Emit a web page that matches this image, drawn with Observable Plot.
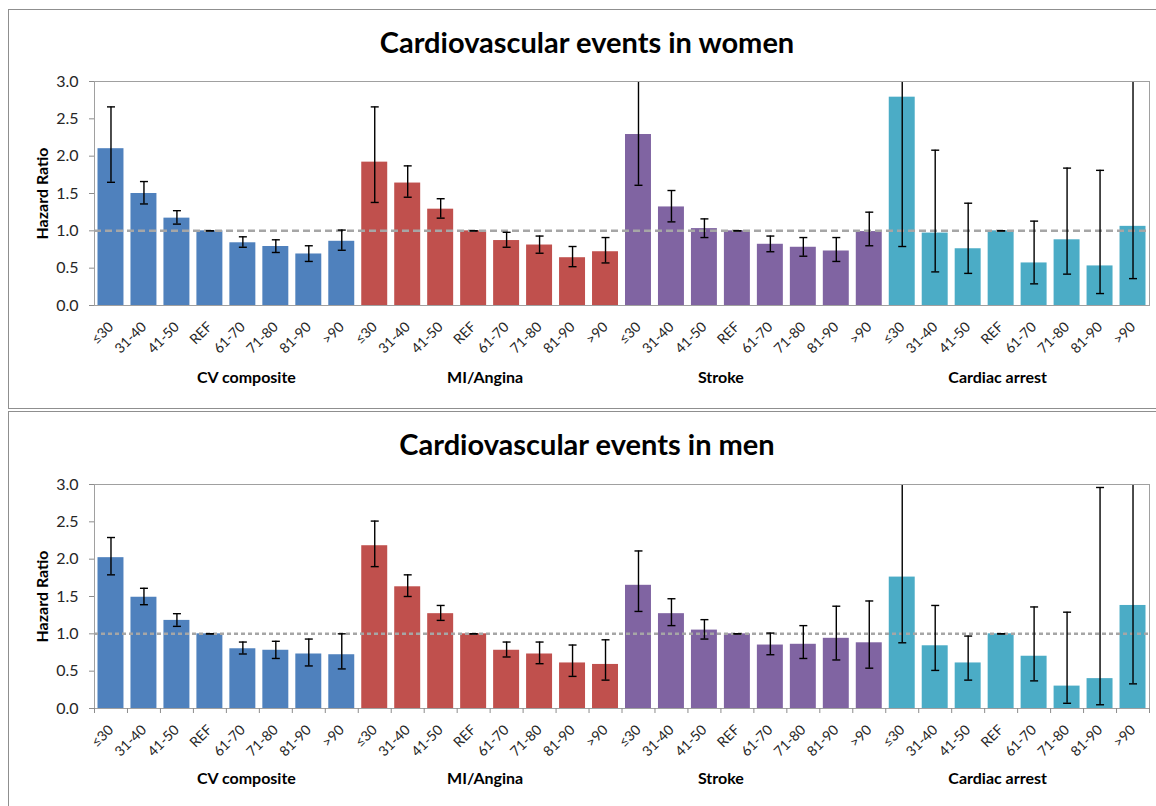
<!DOCTYPE html>
<html>
<head>
<meta charset="utf-8">
<script src="https://cdn.jsdelivr.net/npm/d3@7"></script>
<script src="https://cdn.jsdelivr.net/npm/@observablehq/plot@0.6"></script>
<style>
  html, body { margin: 0; padding: 0; background: #fff; }
  body { width: 1156px; height: 806px; overflow: hidden; position: relative; font-family: Lato, "Open Sans", sans-serif; }
  .panel { position: absolute; left: 8px; width: 1158px; box-sizing: border-box; border: 1px solid #8f8f8f; }
  .title { position: absolute; left: 8px; width: 1158px; text-align: center; font-weight: bold; font-size: 29px; line-height: 29px; color: #000; }
  .chart { position: absolute; left: 9px; }
</style>
</head>
<body>
<div class="panel" style="top:9px;height:400px;"></div>
<div class="panel" style="top:411px;height:420px;"></div>
<div class="title" style="top:27px;">Cardiovascular events in women</div>
<div class="title" style="top:429px;">Cardiovascular events in men</div>
<div class="chart" id="women" style="top:69px;"></div>
<div class="chart" id="men" style="top:472px;"></div>
<script>
// ---- data ----
const groups = ["CV composite", "MI/Angina", "Stroke", "Cardiac arrest"];
const ageBands = ["≤30", "31-40", "41-50", "REF", "61-70", "71-80", "81-90", ">90"];
const groupColors = ["#4F81BD", "#C0504D", "#8064A2", "#4BACC6"];
const refHR = 1;

const womenHR = [2.10, 1.50, 1.17, 1.00, 0.84, 0.79, 0.69, 0.86,
                 1.92, 1.64, 1.29, 1.00, 0.87, 0.81, 0.64, 0.72,
                 2.29, 1.32, 1.03, 1.00, 0.82, 0.78, 0.73, 0.99,
                 2.79, 0.97, 0.76, 1.00, 0.57, 0.88, 0.53, 1.06];
const womenLo = [1.65, 1.36, 1.09, 1.00, 0.78, 0.71, 0.59, 0.74,
                 1.38, 1.45, 1.17, 1.00, 0.78, 0.70, 0.52, 0.57,
                 1.61, 1.12, 0.91, 1.00, 0.72, 0.66, 0.59, 0.80,
                 0.79, 0.45, 0.43, 1.00, 0.29, 0.42, 0.16, 0.36];
const womenHi = [2.66, 1.66, 1.27, 1.00, 0.92, 0.88, 0.80, 1.01,
                 2.66, 1.87, 1.43, 1.00, 0.98, 0.93, 0.79, 0.91,
                 3.26, 1.54, 1.16, 1.00, 0.93, 0.91, 0.91, 1.25,
                 9.85, 2.08, 1.37, 1.00, 1.13, 1.84, 1.81, 3.12];

const menHR = [2.02, 1.49, 1.18, 1.00, 0.80, 0.78, 0.73, 0.72,
               2.18, 1.63, 1.27, 1.00, 0.78, 0.73, 0.61, 0.59,
               1.65, 1.27, 1.05, 1.00, 0.85, 0.86, 0.94, 0.88,
               1.76, 0.84, 0.61, 1.00, 0.70, 0.30, 0.40, 1.38];
const menLo = [1.79, 1.39, 1.10, 1.00, 0.73, 0.67, 0.57, 0.53,
               1.90, 1.50, 1.18, 1.00, 0.69, 0.60, 0.43, 0.38,
               1.30, 1.11, 0.93, 1.00, 0.72, 0.67, 0.65, 0.54,
               0.88, 0.51, 0.38, 1.00, 0.37, 0.07, 0.05, 0.33];
const menHi = [2.29, 1.61, 1.27, 1.00, 0.89, 0.90, 0.93, 1.00,
               2.51, 1.79, 1.38, 1.00, 0.89, 0.89, 0.85, 0.92,
               2.11, 1.47, 1.19, 1.00, 1.01, 1.11, 1.37, 1.44,
               3.52, 1.38, 0.97, 1.00, 1.36, 1.29, 2.96, 5.77];

const yTicks = [0, 0.5, 1.0, 1.5, 2.0, 2.5, 3.0];

// ---- chart ----
function buildRows(hr, lo, hi) {
  return hr.map((v, i) => ({
    i, group: groups[Math.floor(i / ageBands.length)], age: ageBands[i % ageBands.length],
    hr: v, lo: lo[i], hi: hi[i]
  }));
}

const capSymbol = {
  draw(context, size) {
    const w = Math.sqrt(size / Math.PI);
    context.moveTo(-w, 0);
    context.lineTo(w, 0);
  }
};

const labelDx = [20, -5, -33, -20];

function makeChart(rows, {dash, boundaryTicks, groupDy}) {
  const n = rows.length;
  const mid = d => d.i + 0.5;
  return Plot.plot({
    width: 1147, height: 338,
    marginTop: 12, marginBottom: 102, marginLeft: 85, marginRight: 7,
    x: {domain: [0, n], axis: null},
    y: {domain: [0, 3], axis: null},
    color: {domain: groups, range: groupColors},
    style: {fontFamily: "Lato, 'Open Sans', sans-serif", fontSize: "14px", color: "#262626", background: "white", overflow: "visible"},
    marks: [
      Plot.rectY(rows, {x1: "i", x2: d => d.i + 1, y: "hr", fill: "group", insetLeft: 3.5, insetRight: 3.5}),
      Plot.ruleY([refHR], {stroke: "#a6a6a6", strokeWidth: 2.5, strokeDasharray: dash}),
      Plot.ruleX(rows, {x: mid, y1: "lo", y2: "hi", stroke: "#000", strokeWidth: 1.4, clip: true}),
      Plot.dot(rows, {x: mid, y: "lo", symbol: capSymbol, r: 4, stroke: "#000", strokeWidth: 1.4, clip: true}),
      Plot.dot(rows, {x: mid, y: "hi", symbol: capSymbol, r: 4, stroke: "#000", strokeWidth: 1.4, clip: true}),
      Plot.frame({stroke: "#a0a0a0"}),
      Plot.axisY({ticks: yTicks, tickFormat: d3.format(".1f"), tickSize: 5, tickPadding: 11, fontSize: 16, stroke: "#8c8c8c", label: null}),
      Plot.axisX({ticks: rows.map(mid), tickFormat: v => ageBands[Math.floor(v) % ageBands.length], tickRotate: -45, tickSize: 0, tickPadding: 19, fontSize: 14, label: null}),
      ...(boundaryTicks ? [Plot.axisX({ticks: d3.range(n + 1), tickSize: 5, tickFormat: () => "", stroke: "#8c8c8c", label: null})] : []),
      Plot.text(["Hazard Ratio"], {frameAnchor: "left", textAnchor: "middle", rotate: -90, dx: -52, fontWeight: "bold", fontSize: 16, fill: "#000"}),
      ...groups.map((g, k) => Plot.text([g], {
        x: k * ageBands.length + ageBands.length / 2, frameAnchor: "bottom", dy: groupDy, dx: labelDx[k],
        fontWeight: "bold", fontSize: 16, fill: "#000"
      }))
    ]
  });
}

document.getElementById("women").append(
  makeChart(buildRows(womenHR, womenLo, womenHi), {dash: "7,4", boundaryTicks: false, groupDy: 77})
);
document.getElementById("men").append(
  makeChart(buildRows(menHR, menLo, menHi), {dash: "4,3", boundaryTicks: true, groupDy: 75})
);
</script>
</body>
</html>
